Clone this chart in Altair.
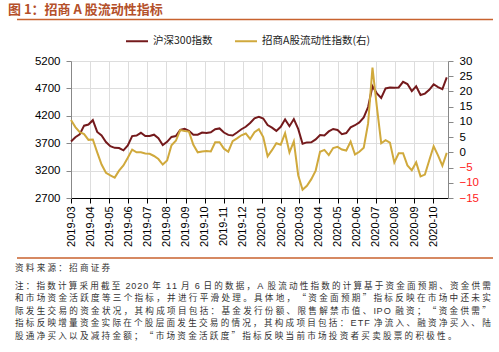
import altair as alt
import pandas as pd

# ---------------- data ----------------
start_date = "2019-03-01"
months = ["2019-03", "2019-04", "2019-05", "2019-06", "2019-07", "2019-08", "2019-09",
          "2019-10", "2019-11", "2019-12", "2020-01", "2020-02", "2020-03", "2020-04",
          "2020-05", "2020-06", "2020-07", "2020-08", "2020-09", "2020-10"]
series_names = ["沪深300指数", "招商A股流动性指数(右)"]

hs300 = [3730, 3810, 3863, 4020, 4040, 4120, 3905, 3840, 3722, 3645,
         3615, 3612, 3570, 3660, 3830, 3840, 3890, 3830, 3830, 3855,
         3790, 3665, 3725, 3815, 3830, 3944, 3962, 3925, 3855, 3855,
         3895, 3888, 3900, 3955, 3970, 3895, 3852, 3840, 3895, 3955,
         4000, 4070, 4155, 4180, 4150, 4030, 3985, 3925, 4000, 4135,
         4010, 4140, 3960, 3690, 3715, 3717, 3770, 3850, 3840, 3915,
         3960, 3941, 3865, 3885, 3990, 4028, 4080, 4170, 4360, 4740,
         4610, 4525, 4700, 4715, 4712, 4718, 4820, 4780, 4650, 4738,
         4580, 4605, 4675, 4775, 4722, 4686, 4900]

liq = [10.6, 8.3, 6.6, 6.0, 4.1, 4.2, 0.0, -4.0, -6.7, -7.6,
       -8.3, -6.0, -4.3, -1.8, 0.9, 0.0, 0.0, -0.4, -0.5, -1.2,
       -2.2, -4.0, -2.7, 2.3, 3.8, 7.3, 7.0, 6.8, 2.5, 0.0,
       0.3, 0.4, 0.3, 3.3, 3.3, 1.2, 0.2, 3.7, 4.6, 5.6,
       6.2, 4.4, 6.6, 7.6, 5.0, -1.3, 0.7, 3.0, 2.5, 6.3,
       0.0, 3.6, -7.5, -12.3, -11.0, -8.8, -6.0, 0.2, 0.8, -0.9,
       1.4, 1.8, 0.9, 0.6, 3.5, -0.7, 0.2, 1.5, 9.5, 27.8,
       15.0, 3.0, 4.0, 3.2, -3.3, -0.3, -0.3, -4.3, -5.9, -3.3,
       -7.9, -7.3, -2.6, 2.0, -1.0, -4.4, -0.2]

left_ticks = [2700, 3200, 3700, 4200, 4700, 5200]
right_ticks = [-15, -10, -5, 0, 5, 10, 15, 20, 25, 30]

title_text = "图 1：招商 A 股流动性指标"
source_text = "资料来源：招商证券"
note_lines = [
    "注：指数计算采用截至 2020 年 11 月 6 日的数据，A 股流动性指数的计算基于资金面预期、资金供需",
    "和市场资金活跃度等三个指标，并进行平滑处理。具体地，“资金面预期”指标反映在市场中还未实",
    "际发生交易的资金状况，其构成项目包括：基金发行份额、限售解禁市值、IPO 融资；“资金供需”",
    "指标反映增量资金实际在个股层面发生交易的情况，其构成项目包括：ETF 净流入、融资净买入、陆",
    "股通净买入以及减持金额；“市场资金活跃度”指标反映当前市场投资者买卖股票的积极性。",
]

# ---------------- build ----------------
dates = pd.date_range(start_date, periods=len(hs300), freq="7D").strftime("%Y-%m-%d").tolist()
df = pd.DataFrame({"date": dates, "hs300": hs300, "liq": liq})

CJK = "Noto Sans CJK SC"
LAT = "Liberation Sans"
RED = "#741a1c"
GOLD = "#d0a93c"
ACCENT = "#c8622e"

# --- per-glyph layout of footnote text (emulates the justified paragraph) ---
EM = {" ": 0.278, "A": 0.667, "I": 0.278, "P": 0.667, "O": 0.778, "E": 0.667, "T": 0.611, "F": 0.611}
for d in "0123456789":
    EM[d] = 0.556


def em_width(ch):
    return EM.get(ch, 1.0)


FS_NOTE = 8.6
LINE_STEP = 12.5
X0 = -56           # left edge, relative to plot origin
X1 = 422           # right edge of justified lines


def line_scale(text):
    tot = sum(em_width(c) for c in text)
    return (X1 - X0) / (tot * FS_NOTE)


scales = [line_scale(t) for t in note_lines[:-1]]
s_avg = sum(scales) / len(scales)

rows = []


def add_line(text, ypix, s):
    cum = 0.0
    for ch in text:
        if ch != " ":
            rows.append({"t": ch, "px": X0 + cum * FS_NOTE * s, "py": ypix, "latin": ord(ch) < 128})
        cum += em_width(ch)


add_line(source_text, 207, s_avg)
for i, line in enumerate(note_lines):
    s = scales[i] if i < len(note_lines) - 1 else s_avg
    add_line(line, 224.5 + LINE_STEP * i, s)

glyph_df = pd.DataFrame(rows)


def dt(s):
    y, m = s.split("-")
    return alt.DateTime(year=int(y), month=int(m), date=1, utc=True)


x_enc = alt.X(
    "date:T",
    scale=alt.Scale(type="utc", nice=False,
                    domain=[alt.DateTime(year=2019, month=3, date=1, utc=True),
                            alt.DateTime(year=2020, month=10, date=25, utc=True)]),
    axis=alt.Axis(values=[dt(m) for m in months], labelExpr="utcFormat(datum.value, '%Y-%m')",
                  labelAngle=-90, labelPadding=3, title=None, domainColor="#000000",
                  tickColor="#000000", labelFontSize=11),
)

color_scale = alt.Scale(domain=series_names, range=[RED, GOLD])
legend = alt.Legend(orient="none", legendX=54, legendY=-32, direction="horizontal", title=None,
                    symbolType="stroke", symbolSize=484, symbolStrokeWidth=2,
                    labelFont=CJK, labelFontSize=10.5, labelColor="#222222",
                    columnPadding=18, labelOffset=4)

base = alt.Chart(df)

hs_line = base.transform_calculate(series="'" + series_names[0] + "'").mark_line(strokeWidth=2).encode(
    x=x_enc,
    y=alt.Y("hs300:Q",
            scale=alt.Scale(domain=[2700, 5200], nice=False, zero=False),
            axis=alt.Axis(orient="left", values=left_ticks, title=None, labelPadding=6,
                          format="d", labelFontSize=11.5)),
    color=alt.Color("series:N", scale=color_scale, legend=legend),
)

liq_line = base.transform_calculate(series="'" + series_names[1] + "'").mark_line(strokeWidth=2).encode(
    x=x_enc,
    y=alt.Y("liq:Q",
            scale=alt.Scale(domain=[-15, 30], nice=False, zero=False),
            axis=alt.Axis(orient="right", values=right_ticks, title=None, labelPadding=6,
                          format="d", labelFontSize=11.5,
                          labelColor={"condition": {"test": "datum.value < 0", "value": "#ff1a1a"},
                                      "value": "#000000"})),
    color=alt.Color("series:N", scale=color_scale, legend=legend),
)

lines = alt.layer(hs_line, liq_line).resolve_scale(y="independent")

one = pd.DataFrame({"k": [0]})

title_mark = alt.Chart(pd.DataFrame({"t": [title_text]})).mark_text(
    align="left", baseline="middle", font=CJK, fontSize=13, fontWeight="bold", color="#b4502a"
).encode(x=alt.value(-63), y=alt.value(-51), text="t:N")

top_rule = alt.Chart(one).mark_rule(color=ACCENT, strokeWidth=1.5).encode(
    x=alt.value(-54), x2=alt.value(422), y=alt.value(-41.5))

bottom_rule = alt.Chart(one).mark_rule(color=ACCENT, strokeWidth=1.5).encode(
    x=alt.value(-54), x2=alt.value(422), y=alt.value(197))

glyphs = alt.Chart(glyph_df)
cjk_text = glyphs.transform_filter("!datum.latin").mark_text(
    align="left", baseline="middle", font=CJK, fontSize=FS_NOTE, color="#333333"
).encode(x=alt.X("px:Q", scale=None), y=alt.Y("py:Q", scale=None), text="t:N")
lat_text = glyphs.transform_filter("datum.latin").mark_text(
    align="left", baseline="middle", font=LAT, fontSize=FS_NOTE + 0.5, color="#333333"
).encode(x=alt.X("px:Q", scale=None), y=alt.Y("py:Q", scale=None), text="t:N")

deco = alt.layer(title_mark, top_rule, bottom_rule, cjk_text, lat_text)

chart = alt.layer(lines, deco).resolve_scale(x="independent", y="independent").properties(
    width=377, height=137,
    padding={"left": 71, "top": 61, "right": 51, "bottom": 154},
    autosize=alt.AutoSizeParams(type="none"),
).configure_view(stroke=None).configure_axis(
    grid=False, labelFont=LAT, labelFontSize=11, labelColor="#000000",
    domainColor="#404040", tickColor="#404040", tickSize=4,
).configure(background="#ffffff")

chart.save("out.html", embed_options={"renderer": "svg", "actions": False})
